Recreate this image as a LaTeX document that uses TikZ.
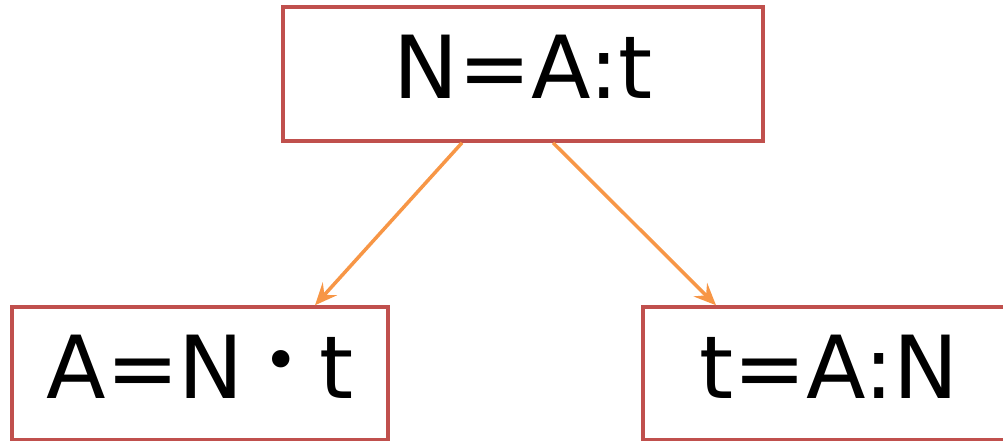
\documentclass[tikz,border=0pt]{standalone}
\usepackage{fontspec}
\setmainfont{DejaVu Sans}
\usetikzlibrary{arrows.meta}
\definecolor{boxred}{HTML}{C0504D}
\definecolor{arrorange}{HTML}{F79646}
\newcommand{\lift}[1]{\raisebox{14pt}{#1}}
\newcommand{\mydot}{\hspace{20pt}\raisebox{17pt}{\fontsize{60}{60}\selectfont •}\hspace{20pt}}
\tikzset{
  eqbox/.style={draw=boxred, line width=3.5pt, inner sep=0pt, font=\fontsize{87}{100}\selectfont},
  conn/.style={draw=arrorange, line width=3.5pt, -{Stealth[length=22pt,width=19pt,inset=8pt]}}
}
\begin{document}
\begin{tikzpicture}[x=1pt,y=-1pt]
\useasboundingbox (0,0) rectangle (1003,441);
\node[eqbox, minimum width=480pt, minimum height=134pt] (top) at (523,74) {\lift{N=A:t}};
\node[eqbox, minimum width=376pt, minimum height=133pt] (left) at (200,373.5) {\lift{A=N\mydot t}};
\node[eqbox, minimum width=372pt, minimum height=133pt] (right) at (829,373.5) {\lift{t=A:N}};
\draw[conn] ([xshift=-61pt]top.south) -- ([xshift=115pt]left.north);
\draw[conn] ([xshift=30pt]top.south) -- ([xshift=-113pt]right.north);
\end{tikzpicture}
\end{document}
